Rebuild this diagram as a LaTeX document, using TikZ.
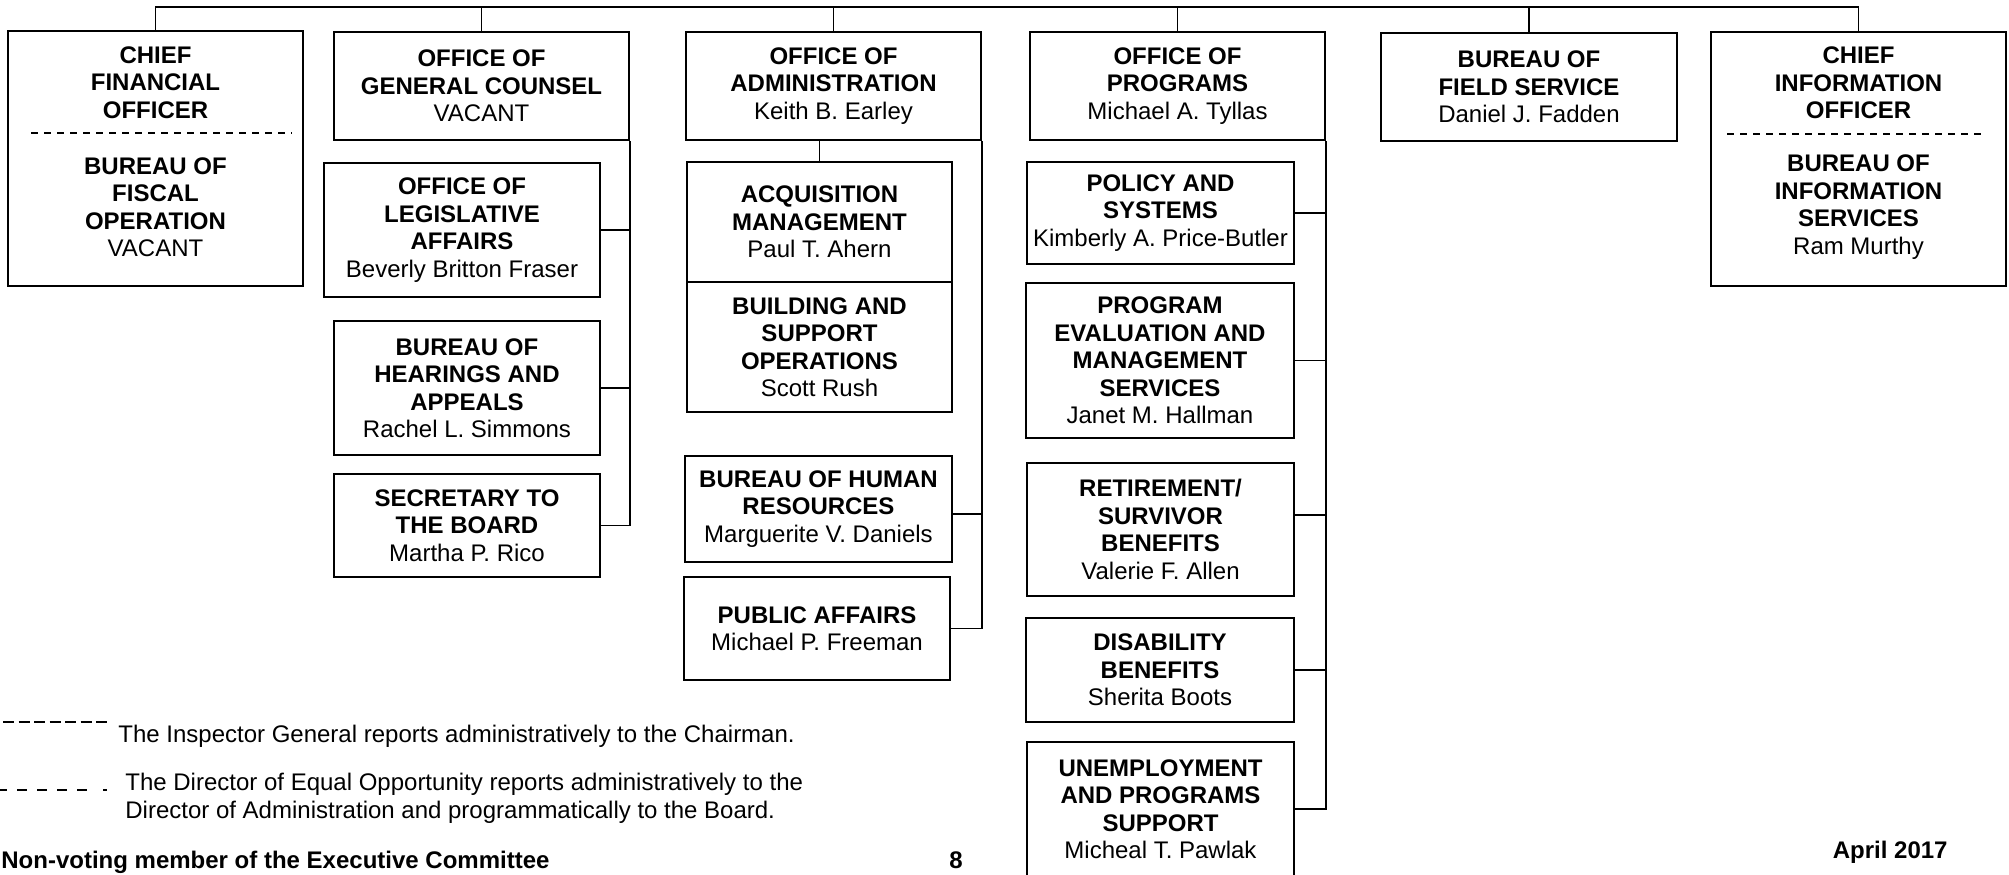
\documentclass[tikz,border=0pt]{standalone}
\usepackage{fontspec}
\setmainfont{Liberation Sans}
\usetikzlibrary{calc}
\tikzset{
  box/.style={draw, line width=1.05pt, inner sep=0pt, align=center, font=\fontsize{12}{13.75}\selectfont},
  lbl/.style={inner sep=0pt, align=center, font=\fontsize{12}{13.75}\selectfont},
  link/.style={line width=0.8pt},
  sepline/.style={line width=0.8pt, dash pattern=on 3.5pt off 3pt},
  note/.style={inner sep=0pt, font=\fontsize{12}{14}\selectfont},
  notebold/.style={inner sep=0pt, font=\fontsize{12}{14}\selectfont\bfseries},
}
\begin{document}
\begin{tikzpicture}[x=0.5pt,y=-0.5pt]
\useasboundingbox (0,0) rectangle (2009,874);
\fill[white] (0,0) rectangle (2009,874);
\clip (0,0) rectangle (2009,874);

% Chief Financial Officer
\node[box, minimum width=147.5pt, minimum height=127.5pt] (cfo) at (155.5,158.5) {};
\node[lbl] (cfoA) at (155.5,82.5) {\textbf{CHIEF}\\\textbf{FINANCIAL}\\\textbf{OFFICER}};
\node[lbl] (cfoB) at (155.5,207) {\textbf{BUREAU OF}\\\textbf{FISCAL}\\\textbf{OPERATION}\\VACANT};
\draw[sepline] (31,133) -- (292,133);

% General Counsel column
\node[box, minimum width=147.5pt, minimum height=54pt] (gc) at (481.5,86) {\textbf{OFFICE OF}\\\textbf{GENERAL COUNSEL}\\VACANT};
\node[box, minimum width=138pt, minimum height=67pt] (leg) at (462,230) {\textbf{OFFICE OF}\\\textbf{LEGISLATIVE}\\\textbf{AFFAIRS}\\Beverly Britton Fraser};
\node[box, minimum width=133pt, minimum height=67pt] (hear) at (467,388) {\textbf{BUREAU OF}\\\textbf{HEARINGS AND}\\\textbf{APPEALS}\\Rachel L. Simmons};
\node[box, minimum width=133pt, minimum height=51.5pt] (sec) at (467,525.5) {\textbf{SECRETARY TO}\\\textbf{THE BOARD}\\Martha P. Rico};

% Administration column
\node[box, minimum width=147.5pt, minimum height=54pt] (oa) at (833.5,86) {\textbf{OFFICE OF}\\\textbf{ADMINISTRATION}\\Keith B. Earley};
\node[box, minimum width=132.5pt, minimum height=60pt] (acq) at (819.5,222) {\textbf{ACQUISITION}\\\textbf{MANAGEMENT}\\Paul T. Ahern};
\node[box, minimum width=132.5pt, minimum height=65pt] (bld) at (819.5,347) {\textbf{BUILDING AND}\\\textbf{SUPPORT}\\\textbf{OPERATIONS}\\Scott Rush};
\node[box, minimum width=133.5pt, minimum height=53pt] (bhr) at (818.5,509) {\textbf{BUREAU OF HUMAN}\\\textbf{RESOURCES}\\Marguerite V. Daniels};
\node[box, minimum width=133pt, minimum height=51.5pt] (pa) at (817,628.5) {\textbf{PUBLIC AFFAIRS}\\Michael P. Freeman};

% Programs column
\node[box, minimum width=147.5pt, minimum height=54pt] (op) at (1177.5,86) {\textbf{OFFICE OF}\\\textbf{PROGRAMS}\\Michael A. Tyllas};
\node[box, minimum width=133.5pt, minimum height=51pt] (pol) at (1160.5,213) {\textbf{POLICY AND}\\\textbf{SYSTEMS}\\Kimberly A. Price-Butler};
\node[box, minimum width=134pt, minimum height=77.5pt] (pem) at (1160,360.5) {\textbf{PROGRAM}\\\textbf{EVALUATION AND}\\\textbf{MANAGEMENT}\\\textbf{SERVICES}\\Janet M. Hallman};
\node[box, minimum width=133.5pt, minimum height=66.5pt] (ret) at (1160.5,529.5) {\textbf{RETIREMENT/}\\\textbf{SURVIVOR}\\\textbf{BENEFITS}\\Valerie F. Allen};
\node[box, minimum width=134pt, minimum height=52pt] (dis) at (1160,670) {\textbf{DISABILITY}\\\textbf{BENEFITS}\\Sherita Boots};
\node[box, minimum width=133.5pt, minimum height=67pt] (ups) at (1160.5,809) {\textbf{UNEMPLOYMENT}\\\textbf{AND PROGRAMS}\\\textbf{SUPPORT}\\Micheal T. Pawlak};

% Field service
\node[box, minimum width=148pt, minimum height=54pt] (bfs) at (1529,87) {\textbf{BUREAU OF}\\\textbf{FIELD SERVICE}\\Daniel J. Fadden};

% Chief Information Officer
\node[box, minimum width=147.5pt, minimum height=127pt] (cio) at (1858.5,159) {};
\node[lbl] (cioA) at (1858.5,83) {\textbf{CHIEF}\\\textbf{INFORMATION}\\\textbf{OFFICER}};
\node[lbl] (cioB) at (1858.5,207) {\textbf{BUREAU OF}\\\textbf{INFORMATION}\\\textbf{SERVICES}\\Ram Murthy};
\draw[sepline] (1727,134) -- (1987,134);

% Top bar
\coordinate (bar) at (0,7);
\draw[link] (cfo.north) -- (cfo.north |- bar) -| (cio.north);
\foreach \n in {gc,oa,op,bfs} \draw[link] (\n.north) -- (\n.north |- bar);

% General Counsel links
\draw[link] (gc.south east) |- (sec.east);
\draw[link] (leg.east) -- (leg.east -| gc.east);
\draw[link] (hear.east) -- (hear.east -| gc.east);

% Administration links
\draw[link] (oa.south -| acq.north) -- (acq.north);
\draw[link] (oa.south east) |- (pa.east);
\coordinate (bhrc) at ([yshift=-2.5pt]bhr.east);
\draw[link] (bhrc) -- (bhrc -| oa.east);

% Programs links
\coordinate (upsc) at ([yshift=0pt]ups.east);
\draw[link] (op.south east) |- (upsc);
\draw[link] (pol.east) -- (pol.east -| op.east);
\draw[link] (pem.east) -- (pem.east -| op.east);
\coordinate (retc) at ([yshift=7.25pt]ret.east);
\draw[link] (retc) -- (retc -| op.east);
\draw[link] (dis.east) -- (dis.east -| op.east);

% Legend
\draw[line width=0.6pt, dash pattern=on 5.5pt off 2.25pt] (3,722) -- (108,722);
\node[note, anchor=base west] (legA) at (118,742) {The Inspector General reports administratively to the Chairman.};
\draw[line width=1.2pt, dash pattern=on 5pt off 5pt] (-3,790) -- (87,790);
\draw[line width=1.2pt] (103,790) -- (107,790);
\node[note, anchor=north west, align=left] (legB) at (125,773) {The Director of Equal Opportunity reports administratively to the\\Director of Administration and programmatically to the Board.};
\node[notebold, anchor=base west] (nv) at (1,868) {Non-voting member of the Executive Committee};
\node[notebold, anchor=base] (pg) at (956,868) {8};
\node[notebold, anchor=base east] (date) at (1948,858) {April 2017};
\end{tikzpicture}
\end{document}
